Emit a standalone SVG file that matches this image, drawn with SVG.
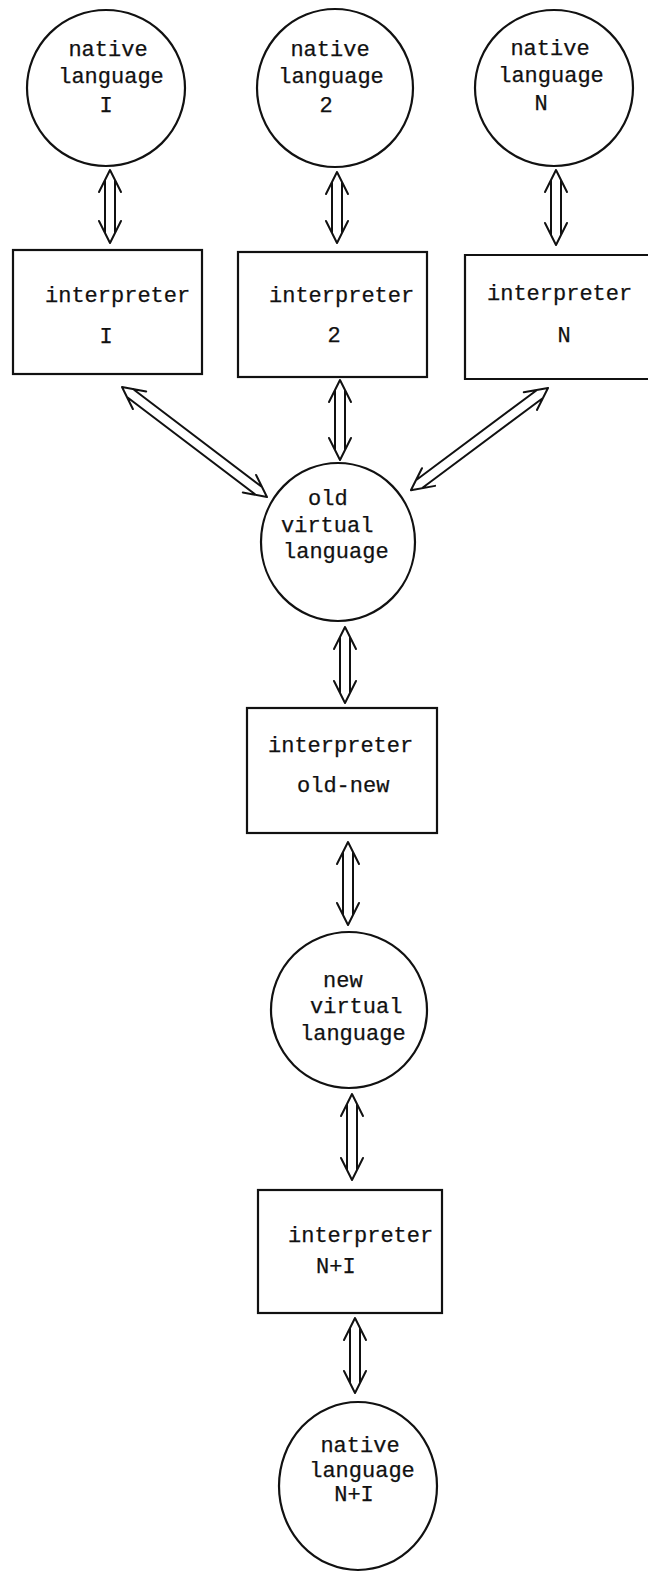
<svg xmlns="http://www.w3.org/2000/svg" width="648" height="1574" viewBox="0 0 648 1574">
  <style>
    .node { fill: none; stroke: #111; stroke-width: 2.2; }
    .lbl { font-family: "Liberation Mono", "Courier New", monospace; font-size: 22px; fill: #111; stroke: #111; stroke-width: 0.25; }
    .arr { fill: none; stroke: #111; stroke-width: 2; stroke-linecap: round; stroke-linejoin: round; }
  </style>
  <rect width="648" height="1574" fill="#fff"/>

  <!-- top row: native languages -->
  <g id="native1">
    <ellipse class="node" cx="106" cy="88" rx="79" ry="78"/>
    <text class="lbl" x="108" y="56" text-anchor="middle">native</text>
    <text class="lbl" x="111" y="83" text-anchor="middle">language</text>
    <text class="lbl" x="106" y="112" text-anchor="middle">I</text>
  </g>
  <g id="native2">
    <ellipse class="node" cx="335" cy="88" rx="78" ry="79"/>
    <text class="lbl" x="330" y="56" text-anchor="middle">native</text>
    <text class="lbl" x="331" y="83" text-anchor="middle">language</text>
    <text class="lbl" x="326" y="112" text-anchor="middle">2</text>
  </g>
  <g id="nativeN">
    <ellipse class="node" cx="554" cy="88" rx="79" ry="78"/>
    <text class="lbl" x="550" y="55" text-anchor="middle">native</text>
    <text class="lbl" x="551" y="82" text-anchor="middle">language</text>
    <text class="lbl" x="541" y="110" text-anchor="middle">N</text>
  </g>

  <!-- interpreters -->
  <g id="interp1">
    <rect class="node" x="13" y="250" width="189" height="124"/>
    <text class="lbl" x="45" y="302">interpreter</text>
    <text class="lbl" x="106" y="343" text-anchor="middle">I</text>
  </g>
  <g id="interp2">
    <rect class="node" x="238" y="252" width="189" height="125"/>
    <text class="lbl" x="269" y="302">interpreter</text>
    <text class="lbl" x="334" y="342" text-anchor="middle">2</text>
  </g>
  <g id="interpN">
    <!-- right side runs off the sheet -->
    <path class="node" d="M648,255 H465 V379 H648"/>
    <text class="lbl" x="487" y="300">interpreter</text>
    <text class="lbl" x="564" y="342" text-anchor="middle">N</text>
  </g>

  <g id="oldVirtual">
    <ellipse class="node" cx="338" cy="542" rx="77" ry="79"/>
    <text class="lbl" x="308" y="505">old</text>
    <text class="lbl" x="281" y="532">virtual</text>
    <text class="lbl" x="283" y="558">language</text>
  </g>

  <g id="interpOldNew">
    <rect class="node" x="247" y="708" width="190" height="125"/>
    <text class="lbl" x="268" y="752">interpreter</text>
    <text class="lbl" x="297" y="792">old-new</text>
  </g>

  <g id="newVirtual">
    <ellipse class="node" cx="349" cy="1010" rx="78" ry="78"/>
    <text class="lbl" x="323" y="987">new</text>
    <text class="lbl" x="310" y="1013">virtual</text>
    <text class="lbl" x="300" y="1040">language</text>
  </g>

  <g id="interpNplus1">
    <rect class="node" x="258" y="1190" width="184" height="123"/>
    <text class="lbl" x="288" y="1242">interpreter</text>
    <text class="lbl" x="316" y="1273">N+I</text>
  </g>

  <g id="nativeNplus1">
    <ellipse class="node" cx="358" cy="1486" rx="79" ry="84"/>
    <text class="lbl" x="360" y="1452" text-anchor="middle">native</text>
    <text class="lbl" x="362" y="1477" text-anchor="middle">language</text>
    <text class="lbl" x="354" y="1501" text-anchor="middle">N+I</text>
  </g>

  <!-- connectors: hollow double-headed arrows, drawn along +x and placed by transform -->
  <g id="connectors">
    <path class="arr" transform="translate(110,170) rotate(90)" d="M22,-11 L0,0 L22,11 M10,-5 H63 M10,5 H63 M51,-11 L73,0 L51,11"/>
    <path class="arr" transform="translate(337,172) rotate(90)" d="M22,-11 L0,0 L22,11 M10,-5 H61 M10,5 H61 M49,-11 L71,0 L49,11"/>
    <path class="arr" transform="translate(556,170) rotate(90)" d="M22,-11 L0,0 L22,11 M10,-5 H65 M10,5 H65 M53,-11 L75,0 L53,11"/>
    <path class="arr" transform="translate(122,387) rotate(37.2)" d="M22,-11 L0,0 L22,11 M10,-5 H172 M10,5 H172 M160,-11 L182,0 L160,11"/>
    <path class="arr" transform="translate(340,380) rotate(90)" d="M22,-11 L0,0 L22,11 M10,-5 H70 M10,5 H70 M58,-11 L80,0 L58,11"/>
    <path class="arr" transform="translate(548,388) rotate(143.3)" d="M22,-11 L0,0 L22,11 M10,-5 H161 M10,5 H161 M149,-11 L171,0 L149,11"/>
    <path class="arr" transform="translate(345,627) rotate(90)" d="M22,-11 L0,0 L22,11 M10,-5 H66 M10,5 H66 M54,-11 L76,0 L54,11"/>
    <path class="arr" transform="translate(348,842) rotate(90)" d="M22,-11 L0,0 L22,11 M10,-5 H73 M10,5 H73 M61,-11 L83,0 L61,11"/>
    <path class="arr" transform="translate(352,1094) rotate(90)" d="M22,-11 L0,0 L22,11 M10,-5 H76 M10,5 H76 M64,-11 L86,0 L64,11"/>
    <path class="arr" transform="translate(355,1318) rotate(90)" d="M22,-11 L0,0 L22,11 M10,-5 H65 M10,5 H65 M53,-11 L75,0 L53,11"/>
  </g>
</svg>
